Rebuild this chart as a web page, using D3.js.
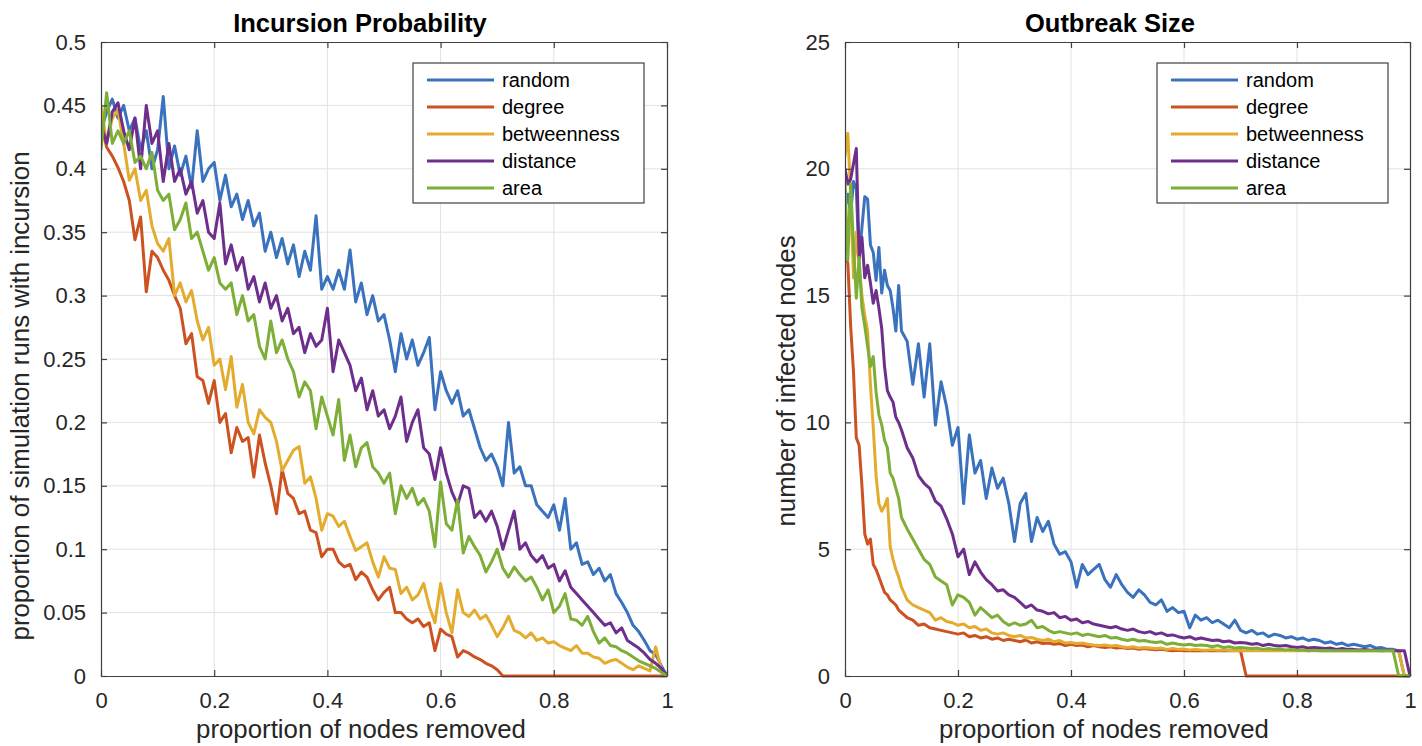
<!DOCTYPE html>
<html lang="en">
<head>
  <meta charset="utf-8">
  <script src="https://d3js.org/d3.v7.min.js"></script>
  <style>
    body {
      margin: 0;
      background: #fff;
      font-family: "Liberation Sans", Arial, Helvetica, sans-serif;
    }
    .grid line {
      stroke: #e2e2e2;
      stroke-width: 1;
    }
    .axis path, .axis line {
      stroke: #404040;
      stroke-width: 1.2;
    }
    .axis text {
      fill: #262626;
      font-size: 22px;
      font-family: "Liberation Sans", Arial, Helvetica, sans-serif;
    }
    .series {
      fill: none;
      stroke-width: 3;
      stroke-linejoin: round;
    }
    .title {
      font-size: 25.5px;
      font-weight: bold;
      fill: #000;
    }
    .label {
      font-size: 25.8px;
      fill: #262626;
    }
    .legend-box {
      fill: #fff;
      stroke: #404040;
      stroke-width: 1.2;
    }
    .legend text {
      font-size: 20px;
      fill: #000;
    }
  </style>
</head>
<body>
<svg id="chart" width="1422" height="746"></svg>
<script>
// strategy names and colours
var strategies = ["random", "degree", "betweenness", "distance", "area"];
var colors = ["#3a72be", "#cc5321", "#e3ac2e", "#6d2e8c", "#7daf38"];

// sampling grids of "proportion of nodes removed"
var xInc = d3.range(0, 101).map(function(i) { return i / 100; });
var xOut = d3.range(0, 21).map(function(i) { return i / 200; })
  .concat(d3.range(11, 101).map(function(i) { return i / 100; }));

var xTicks = [0, 0.2, 0.4, 0.6, 0.8, 1];
var yTicksInc = [0, 0.05, 0.1, 0.15, 0.2, 0.25, 0.3, 0.35, 0.4, 0.45, 0.5];
var yTicksOut = [0, 5, 10, 15, 20, 25];

// left panel: incursion probability (x = 0, 0.01, ... 1)
var randomInc = [
  0.43, 0.445, 0.455, 0.44, 0.45, 0.43, 0.44, 0.415, 0.43, 0.40,
  0.415, 0.457, 0.40, 0.418, 0.395, 0.41, 0.385, 0.43, 0.39, 0.40,
  0.405, 0.375, 0.395, 0.37, 0.38, 0.36, 0.375, 0.355, 0.365, 0.335,
  0.35, 0.33, 0.345, 0.325, 0.34, 0.315, 0.335, 0.32, 0.363, 0.305,
  0.315, 0.305, 0.32, 0.305, 0.336, 0.295, 0.31, 0.285, 0.30, 0.28,
  0.285, 0.265, 0.24, 0.27, 0.25, 0.265, 0.245, 0.255, 0.267, 0.21,
  0.24, 0.225, 0.215, 0.225, 0.205, 0.21, 0.195, 0.18, 0.17, 0.175,
  0.165, 0.15, 0.20, 0.16, 0.165, 0.15, 0.15, 0.135, 0.13, 0.125,
  0.135, 0.115, 0.14, 0.10, 0.105, 0.088, 0.09, 0.08, 0.085, 0.075,
  0.08, 0.065, 0.058, 0.05, 0.04, 0.035, 0.028, 0.02, 0.017, 0.008,
  0
];
var degreeInc = [
  0.436, 0.417, 0.41, 0.401, 0.39, 0.375, 0.344, 0.362, 0.303, 0.335,
  0.33, 0.32, 0.312, 0.30, 0.29, 0.262, 0.27, 0.236, 0.233, 0.215,
  0.233, 0.20, 0.207, 0.176, 0.196, 0.185, 0.188, 0.157, 0.19, 0.168,
  0.15, 0.128, 0.163, 0.144, 0.14, 0.128, 0.13, 0.115, 0.113, 0.094,
  0.10, 0.10, 0.09, 0.086, 0.088, 0.076, 0.082, 0.078, 0.068, 0.06,
  0.066, 0.07, 0.05, 0.05, 0.045, 0.042, 0.045, 0.039, 0.042, 0.02,
  0.037, 0.033, 0.031, 0.015, 0.02, 0.018, 0.015, 0.013, 0.01, 0.008,
  0.005, 0, 0, 0, 0, 0, 0, 0, 0, 0,
  0, 0, 0, 0, 0, 0, 0, 0, 0, 0,
  0, 0, 0, 0, 0, 0, 0, 0, 0, 0,
  0
];
var betweenInc = [
  0.45, 0.42, 0.44, 0.446, 0.42, 0.391, 0.40, 0.375, 0.383, 0.355,
  0.341, 0.335, 0.345, 0.30, 0.31, 0.295, 0.304, 0.28, 0.265, 0.275,
  0.245, 0.25, 0.226, 0.252, 0.212, 0.23, 0.20, 0.191, 0.21, 0.204,
  0.20, 0.185, 0.162, 0.17, 0.178, 0.181, 0.152, 0.157, 0.14, 0.115,
  0.128, 0.126, 0.118, 0.122, 0.11, 0.099, 0.102, 0.105, 0.09, 0.078,
  0.094, 0.085, 0.084, 0.065, 0.07, 0.06, 0.064, 0.073, 0.055, 0.042,
  0.073, 0.05, 0.034, 0.068, 0.05, 0.047, 0.052, 0.045, 0.048, 0.04,
  0.031, 0.038, 0.047, 0.036, 0.034, 0.03, 0.034, 0.028, 0.03, 0.026,
  0.027, 0.024, 0.022, 0.02, 0.024, 0.018, 0.018, 0.015, 0.014, 0.01,
  0.012, 0.013, 0.01, 0.007, 0.005, 0.008, 0.006, 0.004, 0.023, 0.005,
  0
];
var distanceInc = [
  0.435, 0.42, 0.445, 0.452, 0.43, 0.415, 0.44, 0.40, 0.45, 0.42,
  0.43, 0.39, 0.42, 0.39, 0.40, 0.38, 0.39, 0.365, 0.375, 0.35,
  0.345, 0.373, 0.325, 0.34, 0.32, 0.33, 0.305, 0.315, 0.295, 0.31,
  0.29, 0.30, 0.28, 0.29, 0.27, 0.275, 0.255, 0.27, 0.26, 0.265,
  0.29, 0.24, 0.265, 0.255, 0.245, 0.225, 0.235, 0.21, 0.225, 0.205,
  0.21, 0.195, 0.205, 0.22, 0.185, 0.20, 0.21, 0.18, 0.175, 0.155,
  0.18, 0.16, 0.145, 0.135, 0.15, 0.148, 0.125, 0.13, 0.122, 0.13,
  0.118, 0.10, 0.115, 0.13, 0.10, 0.105, 0.095, 0.09, 0.095, 0.085,
  0.088, 0.075, 0.083, 0.07, 0.065, 0.06, 0.055, 0.05, 0.045, 0.04,
  0.042, 0.034, 0.038, 0.028, 0.025, 0.022, 0.018, 0.013, 0.01, 0.006,
  0
];
var areaInc = [
  0.415, 0.46, 0.42, 0.43, 0.42, 0.43, 0.405, 0.41, 0.40, 0.413,
  0.383, 0.375, 0.38, 0.352, 0.36, 0.373, 0.345, 0.35, 0.335, 0.32,
  0.33, 0.31, 0.305, 0.31, 0.285, 0.30, 0.28, 0.285, 0.26, 0.25,
  0.28, 0.255, 0.265, 0.25, 0.24, 0.22, 0.232, 0.225, 0.195, 0.22,
  0.205, 0.19, 0.218, 0.17, 0.19, 0.165, 0.18, 0.184, 0.165, 0.16,
  0.152, 0.16, 0.128, 0.15, 0.14, 0.148, 0.135, 0.14, 0.13, 0.102,
  0.153, 0.12, 0.115, 0.139, 0.097, 0.11, 0.102, 0.095, 0.082, 0.09,
  0.10, 0.085, 0.078, 0.086, 0.08, 0.075, 0.078, 0.07, 0.06, 0.068,
  0.05, 0.055, 0.065, 0.045, 0.044, 0.04, 0.047, 0.035, 0.026, 0.03,
  0.024, 0.023, 0.02, 0.018, 0.015, 0.012, 0.01, 0.008, 0.006, 0.003,
  0
];

// right panel: outbreak size (x = 0..0.1 by 0.005, then 0.11..1 by 0.01)
var randomOut = [
  18.5, 19.0, 18.2, 19.5, 19.2, 16.4, 17.7, 18.9, 18.8, 17.0, 16.7,
  15.6, 16.9, 15.1, 16.0, 15.4, 15.2, 14.5, 13.6, 15.4, 13.6,
  13.2, 11.5, 13.1, 11.0, 13.1, 9.9, 11.6, 10.6, 9.1, 9.8,
  6.8, 9.5, 8.0, 8.5, 7.0, 8.2, 7.4, 7.8, 6.8, 5.3,
  6.8, 7.2, 5.3, 6.25, 5.7, 6.1, 5.2, 4.8, 4.9, 4.5,
  3.5, 4.4, 4.0, 4.2, 4.4, 3.8, 3.5, 4.0, 3.6, 3.3,
  3.1, 3.4, 3.2, 2.9, 2.8, 3.0, 2.55, 2.7, 2.5, 2.55,
  1.9, 2.4, 2.2, 2.3, 2.1, 2.2, 2.05, 1.9, 2.2, 1.8,
  1.7, 1.8, 1.65, 1.7, 1.55, 1.65, 1.6, 1.5, 1.55, 1.45,
  1.5, 1.4, 1.45, 1.4, 1.3, 1.35, 1.25, 1.3, 1.2, 1.25,
  1.2, 1.15, 1.2, 1.1, 1.12, 1.05, 1.05, 1.0, 0, 0
];
var degreeOut = [
  16.4, 16.3, 13.8, 12.0, 9.4, 9.1, 7.5, 5.6, 5.2, 5.4, 4.4,
  4.2, 3.9, 3.6, 3.3, 3.2, 3.0, 2.9, 2.8, 2.6, 2.5,
  2.3, 2.2, 2.0, 2.05, 1.9, 1.85, 1.8, 1.75, 1.7, 1.65,
  1.7, 1.55, 1.6, 1.5, 1.55, 1.45, 1.5, 1.4, 1.45, 1.4,
  1.35, 1.42, 1.3, 1.35, 1.28, 1.3, 1.25, 1.28, 1.2, 1.25,
  1.2, 1.22, 1.15, 1.2, 1.15, 1.12, 1.15, 1.1, 1.12, 1.08,
  1.1, 1.05, 1.08, 1.05, 1.03, 1.05, 1.02, 1.0, 1.02, 1.0,
  1, 1, 1, 1, 1, 1, 1, 1, 1, 1,
  0, 0, 0, 0, 0, 0, 0, 0, 0, 0,
  0, 0, 0, 0, 0, 0, 0, 0, 0, 0,
  0, 0, 0, 0, 0, 0, 0, 0, 0, 0
];
var betweenOut = [
  20.5, 21.4, 19.0, 15.7, 17.5, 16.2, 15.0, 14.2, 13.6, 11.5, 9.8,
  7.9, 6.8, 6.5, 6.7, 7.0, 5.1, 4.6, 4.2, 3.9, 3.5,
  3.0, 2.8, 2.7, 2.6, 2.5, 2.2, 2.3, 2.15, 2.1, 2.0,
  2.05, 1.9, 1.95, 1.8, 1.85, 1.7, 1.65, 1.7, 1.6, 1.55,
  1.6, 1.5, 1.52, 1.45, 1.4, 1.45, 1.35, 1.4, 1.3, 1.32,
  1.28, 1.3, 1.25, 1.22, 1.2, 1.22, 1.18, 1.2, 1.15, 1.12,
  1.15, 1.1, 1.12, 1.1, 1.08, 1.1, 1.05, 1.08, 1.05, 1.06,
  1.03, 1.05, 1.03, 1.02, 1.04, 1.02, 1.03, 1.01, 1.02, 1.0,
  1, 1, 1, 1, 1, 1, 1, 1, 1, 1,
  1, 1, 1, 1, 1, 1, 1, 1, 1, 1,
  1, 1, 1, 1, 1, 1, 1, 1, 0, 0
];
var distanceOut = [
  20.0, 19.4, 19.6, 20.2, 20.8, 16.5, 17.3, 15.7, 16.2, 15.5, 14.7,
  15.2, 14.5, 13.7, 12.2, 11.25, 11.0, 10.8, 10.2, 10.0, 9.7,
  9.0, 8.6, 7.9, 7.6, 7.4, 6.9, 6.7, 6.2, 5.6, 4.7,
  5.0, 4.0, 4.5, 4.1, 3.8, 3.6, 3.35, 3.4, 3.2, 3.1,
  2.9, 2.7, 2.8, 2.6, 2.55, 2.45, 2.5, 2.3, 2.35, 2.2,
  2.25, 2.1, 2.15, 2.05, 2.0, 1.95, 1.9, 1.95, 1.85, 1.8,
  1.85, 1.75, 1.7, 1.75, 1.65, 1.7, 1.6, 1.62, 1.55, 1.5,
  1.55, 1.45, 1.5, 1.45, 1.4, 1.42, 1.35, 1.38, 1.3, 1.32,
  1.3, 1.25, 1.28, 1.2, 1.25, 1.2, 1.18, 1.2, 1.15, 1.12,
  1.15, 1.1, 1.12, 1.1, 1.08, 1.1, 1.05, 1.08, 1.05, 1.05,
  1.03, 1.05, 1.02, 1.03, 1.0, 1.02, 1.0, 1.0, 1.0, 0
];
var areaOut = [
  19.5, 16.4, 19.4, 17.0, 14.9, 16.5, 14.5, 13.8, 13.0, 12.2, 12.6,
  11.2, 10.3, 9.9, 9.3, 9.0, 8.0, 7.8, 7.4, 7.0, 6.25,
  5.8, 5.4, 5.0, 4.6, 4.4, 3.9, 3.75, 3.6, 2.8, 3.2,
  3.1, 2.9, 2.4, 2.7, 2.5, 2.3, 2.4, 2.15, 2.0, 2.1,
  2.0, 2.05, 2.2, 1.9, 1.95, 1.8, 1.7, 1.75, 1.7, 1.65,
  1.7, 1.6, 1.65, 1.6, 1.55, 1.6, 1.5, 1.52, 1.45, 1.4,
  1.45, 1.38, 1.4, 1.35, 1.32, 1.35, 1.25, 1.3, 1.25, 1.22,
  1.25, 1.2, 1.22, 1.2, 1.15, 1.2, 1.12, 1.15, 1.1, 1.12,
  1.1, 1.08, 1.1, 1.05, 1.08, 1.05, 1.06, 1.03, 1.05, 1.02,
  1.03, 1.0, 1.02, 1.0, 1.01, 1.0, 1.0, 1.0, 1.0, 1.0,
  1, 1, 1, 1, 1, 1, 1, 0, 0, 0
];

var svg = d3.select("#chart");

function fmt(d) { return String(+d.toFixed(2)); }

function drawPanel(opts) {
  var x = d3.scaleLinear().domain([0, 1]).range([opts.left, opts.right]);
  var y = d3.scaleLinear().domain(opts.yDomain).range([opts.bottom, opts.top]);
  var g = svg.append("g");

  // grid
  var grid = g.append("g").attr("class", "grid");
  grid.selectAll(".gx").data(xTicks.slice(1, -1)).enter().append("line")
    .attr("x1", function(d) { return x(d); }).attr("x2", function(d) { return x(d); })
    .attr("y1", opts.top).attr("y2", opts.bottom);
  grid.selectAll(".gy").data(opts.yTicks.slice(1, -1)).enter().append("line")
    .attr("y1", function(d) { return y(d); }).attr("y2", function(d) { return y(d); })
    .attr("x1", opts.left).attr("x2", opts.right);

  // series
  var clipId = "clip-" + opts.id;
  g.append("clipPath").attr("id", clipId).append("rect")
    .attr("x", opts.left).attr("y", opts.top - 2)
    .attr("width", opts.right - opts.left + 2).attr("height", opts.bottom - opts.top + 4);

  var line = d3.line()
    .x(function(d) { return x(d[0]); })
    .y(function(d) { return y(d[1]); });

  g.append("g").attr("clip-path", "url(#" + clipId + ")")
    .selectAll("path")
    .data(opts.series)
    .enter().append("path")
      .attr("class", "series")
      .attr("stroke", function(d, i) { return colors[i]; })
      .attr("d", function(d) {
        return line(d.map(function(v, i) { return [opts.xs[i], v]; }));
      });

  // axes (box with inward ticks on all sides)
  g.append("g").attr("class", "axis")
    .attr("transform", "translate(0," + opts.bottom + ")")
    .call(d3.axisBottom(x).tickValues(xTicks).tickFormat(fmt)
      .tickSizeInner(-6).tickSizeOuter(0).tickPadding(16));
  g.append("g").attr("class", "axis")
    .attr("transform", "translate(0," + opts.top + ")")
    .call(d3.axisTop(x).tickValues(xTicks).tickFormat("")
      .tickSizeInner(-6).tickSizeOuter(0));
  g.append("g").attr("class", "axis")
    .attr("transform", "translate(" + opts.left + ",0)")
    .call(d3.axisLeft(y).tickValues(opts.yTicks).tickFormat(fmt)
      .tickSizeInner(-6).tickSizeOuter(0).tickPadding(15));
  g.append("g").attr("class", "axis")
    .attr("transform", "translate(" + opts.right + ",0)")
    .call(d3.axisRight(y).tickValues(opts.yTicks).tickFormat("")
      .tickSizeInner(-6).tickSizeOuter(0));

  // titles and labels
  g.append("text").attr("class", "title")
    .attr("x", opts.titleX).attr("y", 32)
    .attr("text-anchor", "middle").text(opts.title);
  g.append("text").attr("class", "label")
    .attr("x", opts.xLabelX).attr("y", 738)
    .attr("text-anchor", "middle").text("proportion of nodes removed");
  g.append("text").attr("class", "label")
    .attr("transform", "translate(" + opts.yLabelX + "," + opts.yLabelY + ") rotate(-90)")
    .attr("text-anchor", "middle").text(opts.yLabel);

  // legend
  var lg = g.append("g").attr("class", "legend")
    .attr("transform", "translate(" + opts.legendX + ",63)");
  lg.append("rect").attr("class", "legend-box")
    .attr("width", 231).attr("height", 140);
  var rows = lg.selectAll(".row").data(strategies).enter().append("g")
    .attr("transform", function(d, i) { return "translate(0," + (17 + i * 27) + ")"; });
  rows.append("line")
    .attr("x1", 14).attr("x2", 81)
    .attr("stroke", function(d, i) { return colors[i]; })
    .attr("stroke-width", 3);
  rows.append("text")
    .attr("x", 89).attr("dy", "0.35em")
    .text(function(d) { return d; });
}

drawPanel({
  id: "inc", left: 101, right: 667, top: 42, bottom: 676,
  yDomain: [0, 0.5], yTicks: yTicksInc, xs: xInc,
  series: [randomInc, degreeInc, betweenInc, distanceInc, areaInc],
  title: "Incursion Probability", titleX: 360, xLabelX: 361,
  yLabel: "proportion of simulation runs with incursion", yLabelX: 29, yLabelY: 396,
  legendX: 413
});

drawPanel({
  id: "out", left: 845, right: 1410, top: 42, bottom: 676,
  yDomain: [0, 25], yTicks: yTicksOut, xs: xOut,
  series: [randomOut, degreeOut, betweenOut, distanceOut, areaOut],
  title: "Outbreak Size", titleX: 1110, xLabelX: 1104,
  yLabel: "number of infected nodes", yLabelX: 795, yLabelY: 381,
  legendX: 1157
});
</script>
</body>
</html>
